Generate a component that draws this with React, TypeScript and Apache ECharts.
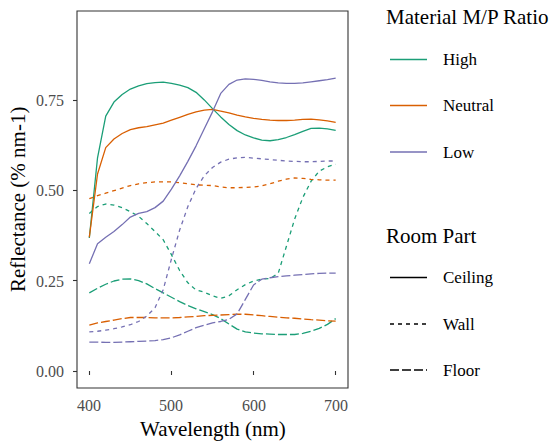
import React, { useEffect, useRef } from "react";
import * as echarts from "echarts";

const wavelengths = [400, 410, 420, 430, 440, 450, 460, 470, 480, 490, 500, 510, 520, 530, 540, 550, 560, 570, 580, 590, 600, 610, 620, 630, 640, 650, 660, 670, 680, 690, 700];

const highCeiling = [0.368, 0.59, 0.705, 0.744, 0.765, 0.78, 0.789, 0.795, 0.798, 0.799, 0.796, 0.791, 0.784, 0.771, 0.75, 0.726, 0.703, 0.682, 0.665, 0.653, 0.645, 0.639, 0.637, 0.64, 0.646, 0.654, 0.663, 0.671, 0.672, 0.67, 0.666];
const neutralCeiling = [0.37, 0.545, 0.618, 0.642, 0.657, 0.668, 0.673, 0.676, 0.681, 0.686, 0.694, 0.702, 0.71, 0.717, 0.722, 0.724, 0.719, 0.714, 0.708, 0.703, 0.699, 0.696, 0.694, 0.693, 0.693, 0.694, 0.696, 0.697, 0.695, 0.692, 0.688];
const lowCeiling = [0.297, 0.352, 0.37, 0.386, 0.405, 0.426, 0.436, 0.441, 0.452, 0.47, 0.503, 0.54, 0.58, 0.623, 0.67, 0.717, 0.768, 0.793, 0.805, 0.808, 0.807, 0.804, 0.8, 0.797, 0.796, 0.796, 0.797, 0.8, 0.803, 0.806, 0.81];

const highWall = [0.436, 0.455, 0.462, 0.459, 0.452, 0.441, 0.428, 0.408, 0.386, 0.363, 0.322, 0.278, 0.244, 0.224, 0.218, 0.208, 0.201, 0.208, 0.225, 0.239, 0.249, 0.254, 0.256, 0.27, 0.345, 0.42, 0.48, 0.525, 0.553, 0.565, 0.572];
const neutralWall = [0.477, 0.485, 0.492, 0.499, 0.506, 0.513, 0.518, 0.521, 0.523, 0.523, 0.523, 0.521, 0.518, 0.515, 0.514, 0.513, 0.509, 0.507, 0.507, 0.508, 0.509, 0.512, 0.518, 0.525, 0.531, 0.534, 0.533, 0.53, 0.529, 0.528, 0.528];
const lowWall = [0.108, 0.11, 0.113, 0.117, 0.122, 0.128, 0.137, 0.152, 0.175, 0.225, 0.31, 0.39, 0.455, 0.505, 0.54, 0.563, 0.578, 0.586, 0.59, 0.591, 0.589, 0.587, 0.585, 0.583, 0.581, 0.58, 0.579, 0.579, 0.58, 0.581, 0.581];

const highFloor = [0.216, 0.229, 0.24, 0.249, 0.254, 0.255, 0.25, 0.241, 0.228, 0.216, 0.204, 0.192, 0.181, 0.172, 0.164, 0.156, 0.145, 0.13, 0.116, 0.108, 0.105, 0.103, 0.102, 0.101, 0.101, 0.101, 0.104, 0.11, 0.118, 0.129, 0.145];
const neutralFloor = [0.127, 0.133, 0.137, 0.141, 0.145, 0.148, 0.148, 0.148, 0.147, 0.147, 0.147, 0.148, 0.15, 0.151, 0.153, 0.154, 0.155, 0.156, 0.157, 0.157, 0.155, 0.153, 0.151, 0.149, 0.147, 0.146, 0.144, 0.142, 0.141, 0.139, 0.138];
const lowFloor = [0.08, 0.08, 0.079, 0.079, 0.08, 0.081, 0.082, 0.083, 0.084, 0.087, 0.092, 0.1, 0.11, 0.12, 0.127, 0.133, 0.137, 0.143, 0.158, 0.198, 0.238, 0.254, 0.258, 0.261, 0.263, 0.265, 0.267, 0.269, 0.27, 0.271, 0.271];

const ratioLabels = ["High", "Neutral", "Low"];
const partLabels = ["Ceiling", "Wall", "Floor"];
const xTicks = [400, 500, 600, 700];
const yTicks = [0, 0.25, 0.5, 0.75];
const xTitle = "Wavelength (nm)";
const yTitle = "Reflectance (% nm-1)";

const COLORS = ["#1B9E77", "#D95F02", "#7570B3"];
const DASHES: any[] = ["solid", [4, 4], [9, 3]];
const SERIF = "Liberation Serif";
const SERIF_STACK = "'Liberation Serif', Tinos, 'Times New Roman', Times, serif";

const seriesTable = [
  [highCeiling, highWall, highFloor],
  [neutralCeiling, neutralWall, neutralFloor],
  [lowCeiling, lowWall, lowFloor],
];

const X_MIN = 385;
const X_MAX = 715;
const Y_MIN = -0.047;
const Y_MAX = 0.996;

function measure(text: string, size: number): number {
  const c = document.createElement("canvas");
  const ctx = c.getContext("2d");
  if (!ctx) return text.length * size * 0.5;
  ctx.font = size + "px " + SERIF_STACK;
  return ctx.measureText(text).width;
}

export default function App() {
  const ref = useRef<HTMLDivElement>(null);
  useEffect(() => {
    if (!ref.current) return;
    const chart = echarts.init(ref.current, null, { renderer: "svg" });
    const series: any[] = [];
    seriesTable.forEach((parts, ci) => {
      parts.forEach((vals, pi) => {
        series.push({
          type: "line",
          name: ratioLabels[ci] + " " + partLabels[pi],
          data: wavelengths.map((w, i) => [w, vals[i]]),
          symbol: "none",
          smooth: false,
          lineStyle: { color: COLORS[ci], width: 1.3, type: DASHES[pi] },
          z: 2,
        });
      });
    });

    chart.setOption({
      animation: false,
      backgroundColor: "#fff",
      grid: { left: 77, right: 208, top: 11, bottom: 56, show: true, borderColor: "#333333", borderWidth: 1.1, backgroundColor: "transparent", containLabel: false },
      xAxis: {
        type: "value",
        min: X_MIN,
        max: X_MAX,
        axisLine: { show: false },
        axisTick: { show: true, length: 4, customValues: xTicks, lineStyle: { color: "#333333", width: 1.1 } },
        axisLabel: { show: false },
        splitLine: { show: false },
      },
      yAxis: {
        type: "value",
        min: Y_MIN,
        max: Y_MAX,
        axisLine: { show: false },
        axisTick: { show: true, length: 4, customValues: yTicks, lineStyle: { color: "#333333", width: 1.1 } },
        axisLabel: { show: false },
        splitLine: { show: false },
      },
      series,
    });

    // Axis texts positioned through the chart's own scales
    const toPx = (x: number, y: number) => chart.convertToPixel({ gridIndex: 0 }, [x, y]) as number[];
    const bottomLeft = toPx(X_MIN, Y_MIN);
    const topRight = toPx(X_MAX, Y_MAX);
    const plotLeft = bottomLeft[0];
    const plotBottom = bottomLeft[1];
    const plotCx = (bottomLeft[0] + topRight[0]) / 2;
    const plotCy = (bottomLeft[1] + topRight[1]) / 2;

    const legendX = 386;
    const keyX1 = 390;
    const keyX2 = 427;
    const labelX = 443;
    const ratioY = [59.5, 105.5, 152];
    const partY = [277.5, 324, 370];
    const graphics: any[] = [];

    graphics.push({ type: "text", x: legendX, y: 17, style: { text: "Material M/P Ratio", fontSize: 21, fontFamily: SERIF, fill: "#000", verticalAlign: "middle" } });
    graphics.push({ type: "text", x: legendX, y: 236, style: { text: "Room Part", fontSize: 21, fontFamily: SERIF, fill: "#000", verticalAlign: "middle" } });
    ratioLabels.forEach((lab, i) => {
      graphics.push({ type: "line", shape: { x1: keyX1, y1: ratioY[i], x2: keyX2, y2: ratioY[i] }, style: { stroke: COLORS[i], lineWidth: 1.3 } });
      graphics.push({ type: "text", x: labelX, y: ratioY[i], style: { text: lab, fontSize: 17, fontFamily: SERIF, fill: "#000", verticalAlign: "middle" } });
    });
    partLabels.forEach((lab, i) => {
      graphics.push({ type: "line", shape: { x1: keyX1, y1: partY[i], x2: keyX2, y2: partY[i] }, style: { stroke: "#000", lineWidth: 1.3, lineDash: DASHES[i] === "solid" ? null : DASHES[i] } });
      graphics.push({ type: "text", x: labelX, y: partY[i], style: { text: lab, fontSize: 17, fontFamily: SERIF, fill: "#000", verticalAlign: "middle" } });
    });

    xTicks.forEach((t) => {
      const p = toPx(t, 0);
      const s = String(t);
      const w = measure(s, 16);
      graphics.push({ type: "text", x: Math.round(p[0] - w / 2), y: Math.round(plotBottom + 17), style: { text: s, font: "16px " + SERIF_STACK, fontSize: 16, fontFamily: SERIF, fill: "#4D4D4D", verticalAlign: "middle" } });
    });
    yTicks.forEach((t) => {
      const p = toPx(X_MIN, t);
      const s = t.toFixed(2);
      const w = measure(s, 16);
      graphics.push({ type: "text", x: Math.round(plotLeft - 13 - w), y: Math.round(p[1]), style: { text: s, font: "16px " + SERIF_STACK, fontSize: 16, fontFamily: SERIF, fill: "#4D4D4D", verticalAlign: "middle" } });
    });
    const xw = measure(xTitle, 21);
    graphics.push({ type: "text", x: Math.round(plotCx - xw / 2), y: Math.round(plotBottom + 41), style: { text: xTitle, font: "21px " + SERIF_STACK, fontSize: 21, fontFamily: SERIF, fill: "#000", verticalAlign: "middle" } });
    const yw = measure(yTitle, 21);
    graphics.push({ type: "text", x: 18, y: Math.round(plotCy + yw / 2), rotation: Math.PI / 2, style: { text: yTitle, font: "21px " + SERIF_STACK, fontSize: 21, fontFamily: SERIF, fill: "#000", verticalAlign: "middle" } });

    chart.setOption({ graphic: graphics });
    return () => chart.dispose();
  }, []);
  return <div ref={ref} style={{ width: 556, height: 444, position: "absolute", left: 0, top: 0 }} />;
}
